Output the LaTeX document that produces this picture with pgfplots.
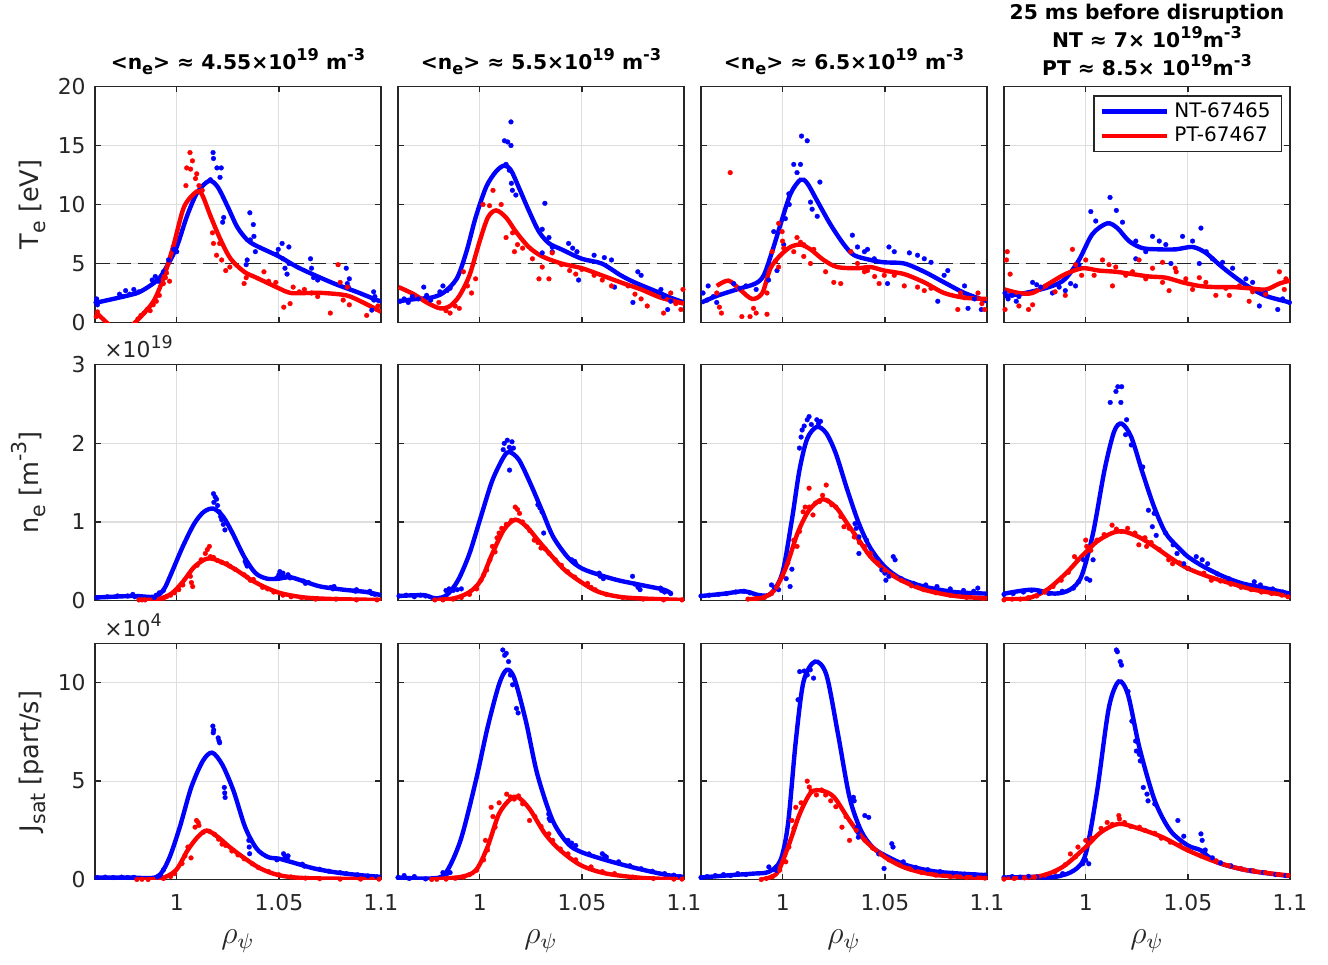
\documentclass[border=0pt]{standalone}
\usepackage{pgfplots}
\pgfplotsset{compat=1.18}
\usepackage{graphicx}
\usepackage{fontspec}
\setmainfont{DejaVu Sans}
\definecolor{gridc}{RGB}{222,222,222}
\definecolor{axc}{RGB}{38,38,38}
\newcommand\ticksize{\fontsize{8.2}{9.8}\selectfont}
\newcommand\labsize{\fontsize{9.6}{11}\selectfont}
\newcommand\titsize{\fontsize{7.6}{9}\selectfont\bfseries}
\newcommand\legsize{\fontsize{7.5}{9}\selectfont}
\newcommand\subx[1]{\raisebox{-0.5ex}{\scalebox{0.8}{#1}}}
\newcommand\supx[1]{\raisebox{0.8ex}{\scalebox{0.8}{#1}}}
\pgfplotsset{
  panel/.style={scale only axis, width=107.25pt, height=88.5pt, anchor=south west,
    xmin=0.96, xmax=1.1, xtick={1,1.05,1.1}, xticklabels={}, yticklabels={},
    grid=major, grid style={gridc, line width=0.45pt},
    axis line style={axc, line width=0.5pt}, tick style={axc, line width=0.5pt},
    tick align=inside, major tick length=2.2pt, tick pos=both,
    ticklabel style={font=\ticksize, text=axc},
    xticklabel style={yshift=-2pt},
    ylabel style={font=\labsize, text=axc, at={(axis description cs:-0.199,0.5)}, anchor=base},
    xlabel style={font=\fontsize{11.5}{12}\selectfont, text=axc, at={(axis description cs:0.5,-0.272)}, anchor=base},
    clip=true},
  te/.style={ymin=0, ymax=20, ytick={0,5,10,15,20}},
  ne/.style={ymin=0, ymax=3, ytick={0,1,2,3}},
  js/.style={ymin=0, ymax=12, ytick={0,5,10}},
  fitb/.style={blue, line width=1.65pt, smooth, mark=none},
  fitr/.style={red, line width=1.65pt, smooth, mark=none},
  dotb/.style={blue, only marks, mark=*, mark size=0.9pt, mark options={line width=0.1pt}, forget plot},
  dotr/.style={red, only marks, mark=*, mark size=0.9pt, mark options={line width=0.1pt}, forget plot},
  dash5/.style={black!85, dash pattern=on 5.5pt off 2.6pt, line width=0.5pt, forget plot},
  bottomrow/.style={xticklabels={1,1.05,1.1}, xlabel={$\rho_{\psi}$}},
}
\begin{document}
\begin{tikzpicture}
\useasboundingbox (0,0) rectangle (498pt,-361.875pt);
% ================= ROW 1 : Te =================
\begin{axis}[panel, te, name=a11, at={(35.625pt,-120.94pt)}, yticklabels={0,5,10,15,20}, ylabel={T\subx{e} [eV]}]
\addplot[dash5] coordinates {(0.96,5) (1.1,5)};
\addplot[dotb] coordinates {(0.9605,1.7)(0.9608,2.0)(0.9612,1.5)(0.972,2.4)(0.9735,2.2)(0.975,2.7)(0.977,2.4)(0.979,2.8)(0.980,2.5)(0.9815,2.6)(0.988,3.6)(0.9895,3.9)(0.991,3.5)(0.9935,4.3)(0.996,5.3)(0.9985,6.2)(1.0,6.0)(1.0165,12.1)(1.0178,14.4)(1.018,13.9)(1.0197,13.1)(1.0218,13.1)(1.0212,12.3)(1.023,8.9)(1.0225,8.5)(1.0358,9.3)(1.036,7.0)(1.0375,8.3)(1.0378,7.3)(1.0385,6.0)(1.0345,5.3)(1.034,4.9)(1.049,5.8)(1.0497,6.2)(1.0516,6.7)(1.0549,6.4)(1.052,5.4)(1.053,4.6)(1.054,4.1)(1.055,5.0)(1.0655,5.4)(1.066,4.6)(1.067,3.8)(1.069,3.6)(1.083,4.6)(1.0835,3.3)(1.084,3.0)(1.0845,3.7)(1.0964,2.6)(1.0965,1.9)(1.0955,1.05)(1.097,2.2)};
\addplot[fitb] coordinates {(0.9603,1.67)(0.974,2.2)(0.982,2.6)(0.9906,3.6)(0.995,4.7)(1.0,6.4)(1.005,9.0)(1.010,11.0)(1.0158,12.0)(1.020,11.5)(1.025,9.8)(1.0296,8.1)(1.0345,7.0)(1.039,6.5)(1.05,5.6)(1.059,4.7)(1.069,3.9)(1.0785,3.2)(1.088,2.6)(1.098,1.9)(1.1,1.8)};
\addplot[dotr] coordinates {(0.9612,0.9)(0.9606,0.5)(0.981,0.3)(0.9825,0.6)(0.984,0.8)(0.9855,1.1)(0.987,1.0)(0.9885,1.5)(0.990,1.8)(0.9915,2.3)(0.9935,3.3)(0.9945,3.8)(0.995,4.2)(0.9965,3.5)(1.0065,14.4)(1.0077,13.7)(1.0049,13.1)(1.0068,13.0)(1.0098,12.6)(1.0092,12.2)(1.0045,11.6)(1.0109,11.6)(1.0125,11.2)(1.0175,7.6)(1.018,6.7)(1.0195,5.7)(1.021,6.7)(1.022,5.3)(1.024,4.4)(1.026,4.7)(1.033,3.3)(1.034,3.8)(1.0427,4.3)(1.045,3.5)(1.0485,3.4)(1.0524,1.3)(1.0555,1.6)(1.057,3.0)(1.060,2.6)(1.0625,2.8)(1.066,2.5)(1.069,2.2)(1.0752,0.8)(1.079,4.9)(1.080,3.4)(1.0815,1.9)(1.0835,3.0)(1.0845,1.5)(1.093,0.6)(1.098,1.1)(1.0985,1.4)};
\addplot[fitr] coordinates {(0.9603,0.9)(0.967,-0.2)(0.973,-0.9)(0.979,-0.1)(0.984,0.8)(0.989,1.9)(0.9938,3.9)(0.9987,6.7)(1.0036,9.8)(1.0098,11.1)(1.0125,10.8)(1.0166,9.0)(1.0215,7.0)(1.0264,5.4)(1.033,4.3)(1.039,3.8)(1.05,2.9)(1.0557,2.5)(1.064,2.5)(1.072,2.5)(1.083,2.3)(1.09,1.8)(1.098,1.1)(1.1,0.9)};
\end{axis}
\begin{axis}[panel, te, name=a12, at={(149.25pt,-120.94pt)}]
\addplot[dash5] coordinates {(0.96,5) (1.1,5)};
\addplot[dotb] coordinates {(0.961,1.8)(0.963,2.0)(0.965,1.7)(0.967,2.2)(0.970,2.0)(0.9726,3.0)(0.974,2.3)(0.976,1.9)(0.9805,2.6)(0.982,3.1)(0.984,2.7)(0.9855,2.9)(1.0121,15.4)(1.0137,15.3)(1.0153,15.0)(1.0153,17.0)(1.0129,13.4)(1.0145,12.9)(1.0155,11.8)(1.016,11.2)(1.0177,10.8)(1.0319,10.1)(1.0306,7.9)(1.0339,7.2)(1.0355,6.4)(1.0306,5.9)(1.0355,6.0)(1.0435,6.7)(1.0455,6.3)(1.0476,6.0)(1.0484,3.6)(1.056,5.7)(1.061,5.5)(1.0645,5.3)(1.066,3.0)(1.075,1.7)(1.0774,4.3)(1.079,4.0)(1.0887,2.8)(1.090,2.2)(1.092,1.1)(1.0935,1.8)};
\addplot[fitb] coordinates {(0.9603,1.8)(0.969,2.0)(0.976,2.1)(0.982,2.5)(0.9887,3.7)(0.9935,6.0)(0.998,8.9)(1.0032,11.5)(1.008,12.8)(1.012,13.3)(1.0153,12.9)(1.019,11.5)(1.024,9.5)(1.029,7.7)(1.034,6.7)(1.040,6.2)(1.05,5.4)(1.0597,5.0)(1.069,4.0)(1.0758,3.4)(1.0855,2.7)(1.0935,2.1)(1.1,1.7)};
\addplot[dotr] coordinates {(0.980,1.7)(0.9835,1.0)(0.9855,0.8)(0.988,1.4)(0.990,1.2)(0.992,4.3)(0.994,3.1)(0.996,2.5)(0.998,3.7)(1.0016,10.0)(1.0048,9.9)(1.0065,11.2)(1.0105,10.0)(1.0129,7.2)(1.0161,7.6)(1.0185,6.6)(1.017,6.0)(1.0210,6.3)(1.0258,5.4)(1.029,3.7)(1.0306,4.7)(1.0339,3.7)(1.0355,5.9)(1.040,4.9)(1.044,4.4)(1.047,4.1)(1.050,4.5)(1.056,4.0)(1.060,3.6)(1.0645,3.1)(1.0726,3.1)(1.076,2.4)(1.079,2.0)(1.082,1.4)(1.090,0.8)(1.0935,2.5)(1.096,1.6)(1.0985,1.1)(1.0995,2.8)};
\addplot[fitr] coordinates {(0.9603,3.0)(0.9677,2.4)(0.974,1.7)(0.9806,1.2)(0.9855,1.4)(0.990,2.25)(0.995,4.0)(1.0,6.9)(1.004,8.9)(1.008,9.5)(1.0129,8.9)(1.0177,7.7)(1.024,6.4)(1.0306,5.6)(1.040,5.0)(1.05,4.6)(1.0597,4.0)(1.069,3.4)(1.079,2.8)(1.0887,2.1)(1.1,1.6)};
\end{axis}
\begin{axis}[panel, te, name=a13, at={(262.875pt,-120.94pt)}]
\addplot[dash5] coordinates {(0.96,5) (1.1,5)};
\addplot[dotb] coordinates {(0.961,2.5)(0.963,1.9)(0.9635,3.1)(0.966,2.2)(0.9677,1.7)(0.976,3.3)(0.979,2.9)(0.982,3.1)(0.987,2.8)(0.9931,3.6)(0.9972,4.4)(0.9956,7.7)(1.0005,6.6)(1.0013,8.8)(1.003,10.9)(1.0032,10.0)(1.0054,13.4)(1.007,12.7)(1.0092,15.8)(1.012,15.4)(1.0087,13.4)(1.0136,10.2)(1.0144,9.6)(1.0169,9.0)(1.0182,11.9)(1.0341,7.4)(1.0366,6.4)(1.0415,6.2)(1.0333,6.0)(1.040,6.0)(1.0448,5.4)(1.052,6.4)(1.0546,6.0)(1.0513,3.3)(1.062,5.9)(1.066,5.7)(1.0693,5.4)(1.0759,1.8)(1.0726,5.1)(1.079,4.0)(1.0808,4.4)(1.089,3.1)(1.0907,1.2)(1.0939,2.0)(1.0972,1.1)};
\addplot[fitb] coordinates {(0.9603,1.7)(0.9677,2.25)(0.9775,2.8)(0.9866,3.3)(0.9907,4.0)(0.9948,6.0)(0.9989,8.3)(1.0038,10.9)(1.0087,12.1)(1.012,11.8)(1.0169,10.3)(1.0234,8.3)(1.030,6.6)(1.035,5.7)(1.043,5.3)(1.0497,5.1)(1.0595,5.0)(1.0693,4.3)(1.079,3.4)(1.089,2.5)(1.1,1.8)};
\addplot[dotr] coordinates {(0.9743,12.7)(0.9677,2.5)(0.969,1.3)(0.970,0.8)(0.980,0.5)(0.984,0.5)(0.9857,1.2)(0.987,0.8)(0.9923,0.7)(0.9923,2.5)(0.9948,6.0)(0.9965,5.2)(0.998,4.7)(0.998,8.4)(0.9997,7.7)(0.9999,6.9)(1.0005,6.3)(1.007,7.2)(1.0087,6.8)(1.0103,6.6)(1.0054,6.0)(1.0103,5.6)(1.0136,5.0)(1.0152,6.2)(1.021,4.3)(1.025,3.4)(1.0284,3.3)(1.0333,6.0)(1.0366,5.0)(1.040,4.3)(1.0415,4.4)(1.045,3.9)(1.0472,3.3)(1.0497,4.0)(1.0546,4.0)(1.0595,3.1)(1.066,3.0)(1.0693,2.7)(1.0726,2.9)(1.0857,1.1)(1.087,2.5)(1.089,2.1)(1.0956,2.5)(1.0975,1.6)(1.0989,1.1)};
\addplot[fitr] coordinates {(0.9677,3.1)(0.9734,3.55)(0.979,2.8)(0.985,2.0)(0.990,2.5)(0.994,4.6)(0.9989,5.7)(1.0038,6.4)(1.0087,6.6)(1.0136,6.2)(1.020,5.3)(1.0267,4.7)(1.0366,4.6)(1.043,4.7)(1.0497,4.4)(1.0595,4.1)(1.0693,3.4)(1.079,2.5)(1.089,2.1)(1.1,2.0)};
\end{axis}
\begin{axis}[panel, te, name=a14, at={(376.5pt,-120.94pt)},
  legend style={at={(0.972,0.962)}, anchor=north east, draw=axc, line width=0.5pt, font=\legsize, inner xsep=2pt, inner ysep=0.3pt, row sep=-2pt, cells={anchor=west}, fill=white},
  legend image code/.code={\draw[#1] (0pt,0pt) -- (24.5pt,0pt);}]
\addplot[dash5] coordinates {(0.96,5) (1.1,5)};
\addplot[dotb] coordinates {(0.9605,2.5)(0.962,2.0)(0.964,2.3)(0.966,1.8)(0.9673,2.2)(0.974,3.4)(0.976,3.2)(0.978,3.0)(0.9837,2.5)(0.987,3.0)(0.990,2.7)(0.9926,3.3)(0.995,3.1)(0.9967,4.9)(1.0025,9.4)(1.0049,8.6)(1.0119,10.6)(1.015,9.5)(1.018,8.5)(1.0245,6.9)(1.0294,6.0)(1.0327,7.3)(1.036,6.9)(1.0392,6.6)(1.0245,5.4)(1.0417,5.0)(1.0474,7.3)(1.0523,6.9)(1.0564,8.0)(1.0556,5.0)(1.059,6.0)(1.062,5.4)(1.067,5.1)(1.0719,4.6)(1.0784,3.7)(1.0817,3.4)(1.085,1.4)(1.088,2.5)(1.094,1.1)(1.0964,2.0)(1.0997,1.7)};
\addplot[fitb] coordinates {(0.9603,2.25)(0.9673,2.4)(0.9755,2.7)(0.9837,3.1)(0.990,3.7)(0.9967,5.3)(1.0033,7.5)(1.0105,8.4)(1.0155,8.0)(1.0212,6.9)(1.0278,6.3)(1.036,6.2)(1.0441,6.2)(1.0523,6.4)(1.0588,5.9)(1.0654,4.9)(1.0719,4.0)(1.080,3.0)(1.0882,2.25)(1.1,1.7)};
\addlegendentry{NT-67465}
\addplot[dotr] coordinates {(0.9605,1.1)(0.9616,6.0)(0.9612,5.3)(0.963,4.1)(0.9673,1.4)(0.972,1.1)(0.974,1.5)(0.9804,3.1)(0.985,2.6)(0.990,2.3)(0.9935,6.2)(0.995,4.9)(0.998,4.0)(1.0,5.3)(1.0041,4.0)(1.0082,5.3)(1.0114,4.9)(1.0131,3.1)(1.0147,4.7)(1.0196,4.0)(1.0229,4.3)(1.0261,5.3)(1.0294,3.7)(1.0327,4.6)(1.0376,3.4)(1.0376,5.1)(1.0408,2.7)(1.0438,4.6)(1.0443,4.3)(1.0490,3.7)(1.0523,2.8)(1.0556,3.8)(1.0588,3.4)(1.0637,2.3)(1.0686,2.9)(1.0703,2.3)(1.0752,3.1)(1.080,1.8)(1.0817,2.6)(1.088,2.4)(1.0948,4.3)(1.0972,2.8)(1.098,3.7)};
\addplot[fitr] coordinates {(0.9603,2.8)(0.9673,2.5)(0.9739,2.5)(0.982,3.3)(0.990,4.1)(0.9984,4.6)(1.0065,4.4)(1.0147,4.3)(1.0229,4.1)(1.031,3.9)(1.0392,3.8)(1.0474,3.4)(1.0556,3.1)(1.0637,3.0)(1.0719,3.0)(1.080,2.9)(1.0882,2.8)(1.0948,3.3)(1.1,3.55)};
\addlegendentry{PT-67467}
\end{axis}
% ================= ROW 2 : ne =================
\begin{axis}[panel, ne, name=a21, at={(35.625pt,-225.26pt)}, yticklabels={0,1,2,3}, ylabel={n\subx{e} [m\supx{-3}]}]
\addplot[dotb] coordinates {(0.961,0.04)(0.966,0.05)(0.971,0.06)(0.976,0.06)(0.9785,0.08)(0.9795,0.05)(0.989,0.04)(0.990,0.07)(0.9915,0.10)(0.9935,0.13)(1.018,1.36)(1.0188,1.32)(1.0195,1.29)(1.0182,1.25)(1.020,1.21)(1.0208,1.13)(1.0215,1.07)(1.022,1.03)(1.0228,0.97)(1.0236,0.90)(1.0335,0.50)(1.034,0.47)(1.0345,0.44)(1.049,0.29)(1.050,0.33)(1.0505,0.37)(1.0515,0.31)(1.052,0.35)(1.0535,0.30)(1.0545,0.33)(1.0555,0.29)(1.062,0.25)(1.063,0.22)(1.0645,0.23)(1.0755,0.17)(1.0765,0.15)(1.077,0.18)(1.0875,0.12)(1.088,0.14)(1.0945,0.12)(1.0955,0.09)(1.097,0.08)};
\addplot[fitb] coordinates {(0.9603,0.04)(0.9787,0.06)(0.989,0.05)(0.9936,0.14)(0.9974,0.35)(1.003,0.69)(1.0086,0.98)(1.0133,1.13)(1.018,1.17)(1.0227,1.07)(1.0273,0.86)(1.033,0.56)(1.0386,0.35)(1.0442,0.28)(1.05,0.28)(1.0554,0.30)(1.0629,0.24)(1.0704,0.18)(1.0816,0.14)(1.0929,0.11)(1.1,0.07)};
\addplot[dotr] coordinates {(0.9815,0.01)(0.983,0.01)(0.9845,0.01)(0.9935,0.03)(0.995,0.05)(0.997,0.07)(0.999,0.10)(1.001,0.14)(1.003,0.20)(1.0067,0.31)(1.0072,0.23)(1.0078,0.18)(1.010,0.45)(1.012,0.52)(1.014,0.60)(1.015,0.65)(1.016,0.69)(1.0165,0.56)(1.018,0.55)(1.020,0.51)(1.022,0.49)(1.0245,0.47)(1.026,0.44)(1.0285,0.40)(1.033,0.33)(1.0345,0.30)(1.036,0.26)(1.0375,0.27)(1.042,0.17)(1.0445,0.15)(1.0475,0.11)(1.052,0.07)(1.056,0.05)(1.061,0.04)(1.068,0.02)(1.078,0.02)(1.088,0.01)(1.098,0.01)};
\addplot[fitr] coordinates {(0.9815,0.01)(0.9908,0.02)(0.9974,0.09)(1.003,0.24)(1.0086,0.43)(1.0142,0.53)(1.018,0.53)(1.0236,0.47)(1.0292,0.39)(1.0367,0.26)(1.0442,0.16)(1.0517,0.09)(1.0629,0.04)(1.0779,0.02)(1.1,0.01)};
\end{axis}
\begin{axis}[panel, ne, name=a22, at={(149.25pt,-225.26pt)}]
\addplot[dotb] coordinates {(0.9605,0.06)(0.964,0.07)(0.968,0.05)(0.971,0.07)(0.9735,0.06)(0.978,0.03)(0.9835,0.13)(0.985,0.15)(0.987,0.13)(0.989,0.14)(0.991,0.15)(1.0115,1.92)(1.012,2.0)(1.0135,2.04)(1.0145,1.95)(1.015,1.90)(1.0158,2.02)(1.0165,1.94)(1.0146,1.66)(1.0285,1.22)(1.0295,1.18)(1.0305,1.13)(1.0313,0.86)(1.045,0.52)(1.0465,0.50)(1.047,0.47)(1.0585,0.35)(1.059,0.31)(1.0605,0.28)(1.0748,0.31)(1.076,0.21)(1.0775,0.17)(1.0785,0.14)(1.0885,0.16)(1.089,0.13)(1.0905,0.11)(1.0935,0.09)};
\addplot[fitb] coordinates {(0.9603,0.06)(0.9726,0.07)(0.9782,0.03)(0.9838,0.07)(0.9894,0.26)(0.995,0.60)(1.0006,1.07)(1.0062,1.53)(1.0118,1.83)(1.0146,1.89)(1.0192,1.79)(1.0248,1.49)(1.0304,1.15)(1.036,0.81)(1.0435,0.54)(1.05,0.41)(1.0584,0.33)(1.0677,0.26)(1.0789,0.20)(1.0901,0.14)(1.0938,0.09)};
\addplot[dotr] coordinates {(0.978,0.01)(0.982,0.01)(0.987,0.02)(0.991,0.04)(0.995,0.08)(0.9985,0.15)(1.0006,0.26)(1.002,0.33)(1.0034,0.39)(1.005,0.52)(1.0062,0.69)(1.0075,0.62)(1.0085,0.80)(1.0095,0.86)(1.0108,0.92)(1.013,0.97)(1.0155,1.02)(1.0174,1.19)(1.0185,1.16)(1.0195,1.11)(1.021,1.00)(1.023,0.94)(1.0245,0.89)(1.0267,0.77)(1.0285,0.74)(1.030,0.67)(1.032,0.66)(1.034,0.60)(1.037,0.52)(1.040,0.45)(1.043,0.37)(1.0465,0.30)(1.0528,0.22)(1.0545,0.17)(1.0565,0.14)(1.062,0.08)(1.070,0.04)(1.080,0.02)(1.09,0.01)(1.099,0.01)};
\addplot[fitr] coordinates {(0.9782,0.01)(0.9875,0.03)(0.995,0.11)(1.0006,0.26)(1.0062,0.60)(1.0118,0.90)(1.0174,1.03)(1.023,0.94)(1.0285,0.77)(1.0341,0.60)(1.0416,0.39)(1.05,0.23)(1.0584,0.11)(1.0715,0.04)(1.1,0.01)};
\end{axis}
\begin{axis}[panel, ne, name=a23, at={(262.875pt,-225.26pt)}]
\addplot[dotb] coordinates {(0.960,0.06)(0.964,0.07)(0.9685,0.08)(0.9725,0.09)(0.977,0.11)(0.981,0.12)(0.984,0.10)(0.9945,0.20)(0.996,0.17)(0.998,0.14)(1.0017,0.28)(1.0036,0.18)(1.0045,0.40)(1.0082,1.94)(1.009,2.08)(1.0095,2.17)(1.0105,2.22)(1.012,2.30)(1.0129,2.34)(1.014,2.24)(1.0167,2.30)(1.0175,2.25)(1.0185,2.28)(1.0354,0.98)(1.036,0.92)(1.0373,0.81)(1.0373,0.60)(1.041,0.77)(1.0485,0.39)(1.050,0.35)(1.052,0.31)(1.0541,0.56)(1.055,0.52)(1.0505,0.26)(1.058,0.28)(1.064,0.22)(1.070,0.20)(1.0755,0.18)(1.082,0.15)(1.0885,0.13)(1.0935,0.12)(1.0955,0.16)};
\addplot[fitb] coordinates {(0.9603,0.06)(0.9717,0.09)(0.9811,0.12)(0.9886,0.07)(0.9942,0.09)(0.9998,0.35)(1.0045,1.03)(1.0082,1.66)(1.012,2.06)(1.0167,2.21)(1.0213,2.13)(1.026,1.87)(1.0316,1.41)(1.0373,0.98)(1.0429,0.67)(1.05,0.43)(1.0579,0.28)(1.0691,0.18)(1.0841,0.11)(1.1,0.09)};
\addplot[dotr] coordinates {(0.983,0.02)(0.987,0.03)(0.991,0.04)(0.9945,0.09)(0.997,0.17)(1.000,0.31)(1.0025,0.48)(1.0054,0.77)(1.007,0.69)(1.0082,0.88)(1.010,1.13)(1.011,1.19)(1.0129,1.43)(1.013,1.19)(1.0148,1.09)(1.016,1.24)(1.018,1.26)(1.0195,1.34)(1.0213,1.47)(1.022,1.27)(1.024,1.22)(1.026,1.19)(1.0285,1.07)(1.030,0.94)(1.0325,0.92)(1.035,0.81)(1.0375,0.74)(1.040,0.69)(1.043,0.60)(1.0465,0.48)(1.050,0.39)(1.054,0.32)(1.058,0.26)(1.063,0.19)(1.069,0.14)(1.075,0.10)(1.082,0.07)(1.090,0.04)(1.098,0.03)};
\addplot[fitr] coordinates {(0.983,0.02)(0.9904,0.04)(0.9961,0.14)(1.0017,0.43)(1.0073,0.86)(1.0129,1.15)(1.0195,1.29)(1.026,1.19)(1.0316,0.98)(1.0373,0.77)(1.0429,0.56)(1.05,0.39)(1.0579,0.26)(1.0691,0.14)(1.0841,0.06)(1.1,0.03)};
\end{axis}
\begin{axis}[panel, ne, name=a24, at={(376.5pt,-225.26pt)}]
\addplot[dotb] coordinates {(0.960,0.08)(0.9645,0.09)(0.9695,0.11)(0.9735,0.13)(0.9775,0.11)(0.982,0.09)(0.9885,0.12)(0.994,0.16)(0.9965,0.24)(0.9989,0.52)(1.0005,0.28)(1.002,0.26)(1.0036,0.52)(1.012,2.52)(1.0148,2.66)(1.0157,2.72)(1.0176,2.72)(1.0172,2.52)(1.020,2.30)(1.0195,2.11)(1.0223,1.98)(1.0279,1.70)(1.0307,1.15)(1.0335,1.11)(1.0326,0.94)(1.0345,0.83)(1.0391,0.86)(1.0428,0.71)(1.0447,0.60)(1.048,0.47)(1.0502,0.41)(1.0541,0.56)(1.057,0.52)(1.0597,0.47)(1.0645,0.34)(1.070,0.28)(1.0825,0.24)(1.0855,0.20)(1.0915,0.15)(1.0965,0.11)(1.099,0.08)};
\addplot[fitb] coordinates {(0.9603,0.09)(0.9736,0.14)(0.9848,0.09)(0.9923,0.14)(0.9979,0.31)(1.0036,0.86)(1.0092,1.66)(1.0139,2.15)(1.0176,2.25)(1.0223,2.08)(1.0279,1.62)(1.0335,1.19)(1.0391,0.86)(1.0448,0.69)(1.05,0.56)(1.0579,0.43)(1.0672,0.31)(1.0766,0.22)(1.0878,0.16)(1.1,0.09)};
\addplot[dotr] coordinates {(0.960,0.01)(0.964,0.02)(0.968,0.02)(0.972,0.04)(0.976,0.06)(0.980,0.11)(0.984,0.18)(0.988,0.26)(0.9915,0.36)(0.9945,0.56)(0.996,0.52)(1.0,0.77)(1.0005,0.69)(1.0025,0.64)(1.0055,0.77)(1.009,0.84)(1.0129,0.96)(1.015,0.91)(1.0175,0.88)(1.0205,0.92)(1.0241,0.86)(1.026,0.71)(1.0298,0.69)(1.029,0.80)(1.032,0.74)(1.036,0.65)(1.0406,0.52)(1.0425,0.47)(1.046,0.48)(1.050,0.41)(1.0578,0.35)(1.0615,0.26)(1.066,0.25)(1.071,0.21)(1.076,0.17)(1.081,0.14)(1.086,0.11)(1.091,0.09)(1.096,0.07)(1.099,0.05)};
\addplot[fitr] coordinates {(0.9603,0.02)(0.9717,0.03)(0.9811,0.14)(0.9904,0.35)(0.9979,0.56)(1.0054,0.75)(1.0129,0.86)(1.0185,0.88)(1.026,0.81)(1.0335,0.69)(1.0429,0.52)(1.05,0.41)(1.0597,0.31)(1.071,0.22)(1.0822,0.14)(1.1,0.06)};
\end{axis}
% ================= ROW 3 : Jsat =================
\begin{axis}[panel, js, bottomrow, name=a31, at={(35.625pt,-329.81pt)}, yticklabels={0,5,10}, ylabel={J\subx{sat} [part/s]}]
\addplot[dotb] coordinates {(0.961,0.10)(0.965,0.12)(0.969,0.10)(0.973,0.12)(0.976,0.10)(0.979,0.11)(0.9905,0.13)(0.992,0.2)(0.9935,0.5)(1.0177,7.80)(1.0179,7.46)(1.0181,7.6)(1.0203,7.20)(1.0207,7.05)(1.021,6.95)(1.0233,4.68)(1.0235,4.4)(1.0237,4.17)(1.0353,1.99)(1.0355,1.65)(1.0357,1.31)(1.049,1.0)(1.0523,1.31)(1.053,1.2)(1.054,1.06)(1.0545,1.2)(1.0615,0.78)(1.0625,0.68)(1.07,0.52)(1.0745,0.42)(1.08,0.35)(1.083,0.30)(1.0885,0.24)(1.0935,0.18)(1.098,0.13)};
\addplot[fitb] coordinates {(0.9603,0.1)(0.9771,0.1)(0.9902,0.13)(0.9959,0.98)(1.0015,2.66)(1.0071,4.68)(1.0128,6.03)(1.0173,6.45)(1.0222,5.86)(1.0278,4.51)(1.0335,2.66)(1.0391,1.57)(1.0447,1.14)(1.05,1.06)(1.056,0.89)(1.0673,0.56)(1.0786,0.35)(1.0898,0.22)(1.1,0.13)};
\addplot[dotr] coordinates {(0.9805,0.0)(0.983,0.01)(0.986,0.0)(0.9935,0.05)(0.997,0.15)(0.999,0.3)(1.0026,0.81)(1.004,1.2)(1.0055,1.65)(1.007,1.1)(1.009,2.66)(1.0097,3.0)(1.0105,2.9)(1.0109,2.75)(1.013,2.4)(1.016,2.45)(1.0185,2.3)(1.0205,2.05)(1.0222,1.80)(1.024,1.73)(1.027,1.45)(1.03,1.25)(1.033,1.05)(1.037,0.8)(1.04,0.6)(1.045,0.4)(1.05,0.24)(1.056,0.13)(1.063,0.07)(1.07,0.04)(1.08,0.02)(1.09,0.02)(1.099,0.02)};
\addplot[fitr] coordinates {(0.9808,0.0)(0.9921,0.05)(0.9996,0.47)(1.0053,1.48)(1.0102,2.15)(1.0147,2.49)(1.0203,2.15)(1.0259,1.65)(1.0335,1.06)(1.041,0.56)(1.05,0.22)(1.0635,0.07)(1.1,0.02)};
\end{axis}
\begin{axis}[panel, js, bottomrow, name=a32, at={(149.25pt,-329.81pt)}]
\addplot[dotb] coordinates {(0.960,0.1)(0.963,0.2)(0.9655,0.05)(0.968,0.15)(0.9735,0.03)(0.982,0.35)(0.984,0.3)(0.9855,0.35)(1.0113,11.67)(1.0122,11.4)(1.013,11.5)(1.0141,11.08)(1.015,10.4)(1.0161,9.9)(1.018,8.70)(1.0188,8.47)(1.0338,3.33)(1.034,3.1)(1.0345,3.0)(1.0432,1.99)(1.045,1.85)(1.047,1.73)(1.0535,1.3)(1.06,1.31)(1.0612,1.2)(1.062,1.14)(1.068,0.9)(1.0735,0.7)(1.079,0.55)(1.0845,0.42)(1.0905,0.3)(1.095,0.22)(1.098,0.15)};
\addplot[fitb] coordinates {(0.9598,0.1)(0.9756,0.05)(0.9831,0.3)(0.9906,1.99)(0.9981,5.02)(1.0038,7.71)(1.0094,9.9)(1.0132,10.66)(1.0169,10.24)(1.0226,8.05)(1.0282,5.35)(1.0357,3.0)(1.0432,1.82)(1.0496,1.4)(1.062,0.98)(1.0771,0.56)(1.0921,0.22)(1.0996,0.13)};
\addplot[dotr] coordinates {(0.9765,0.0)(0.979,0.01)(0.9835,0.02)(0.988,0.06)(0.992,0.12)(0.995,0.25)(0.9985,0.47)(1.0019,1.0)(1.0028,1.99)(1.0038,1.5)(1.0056,3.67)(1.0065,3.2)(1.0075,2.66)(1.0095,3.9)(1.0132,4.34)(1.015,4.2)(1.0169,4.09)(1.019,4.25)(1.021,3.85)(1.0244,3.0)(1.027,3.2)(1.03,2.7)(1.0338,2.32)(1.0357,1.99)(1.0395,1.55)(1.0432,1.3)(1.047,1.0)(1.0545,0.64)(1.06,0.4)(1.066,0.3)(1.075,0.12)(1.085,0.05)(1.095,0.02)(1.099,0.02)};
\addplot[fitr] coordinates {(0.9756,0.0)(0.9906,0.13)(0.9981,0.47)(1.0038,1.65)(1.0094,3.33)(1.015,4.09)(1.0188,4.18)(1.0244,3.59)(1.032,2.32)(1.0395,1.48)(1.0496,0.72)(1.062,0.3)(1.0808,0.07)(1.1,0.02)};
\end{axis}
\begin{axis}[panel, js, bottomrow, name=a33, at={(262.875pt,-329.81pt)}]
\addplot[dotb] coordinates {(0.960,0.1)(0.963,0.15)(0.967,0.2)(0.971,0.25)(0.9745,0.2)(0.978,0.3)(0.982,0.25)(0.9932,0.64)(0.9955,0.5)(0.997,0.47)(1.0075,9.14)(1.0083,10.57)(1.0105,10.6)(1.012,10.4)(1.0135,10.66)(1.0151,10.24)(1.0346,4.18)(1.035,4.0)(1.0365,2.66)(1.0368,2.4)(1.037,2.15)(1.0402,3.25)(1.0421,3.16)(1.047,1.3)(1.0496,0.56)(1.0534,1.82)(1.054,1.65)(1.059,0.9)(1.065,0.62)(1.071,0.5)(1.077,0.4)(1.083,0.32)(1.089,0.27)(1.094,0.25)(1.099,0.22)};
\addplot[fitb] coordinates {(0.9598,0.1)(0.9744,0.22)(0.9857,0.3)(0.9932,0.39)(0.9989,0.98)(1.0026,2.83)(1.0064,7.04)(1.0102,10.07)(1.0158,11.08)(1.0214,10.4)(1.0271,7.37)(1.0327,4.18)(1.0383,2.49)(1.0439,1.65)(1.05,1.23)(1.0609,0.72)(1.0759,0.39)(1.1,0.22)};
\addplot[dotr] coordinates {(0.9895,0.0)(0.992,0.05)(0.995,0.15)(0.9985,0.47)(1.0015,0.9)(1.003,1.65)(1.0045,3.0)(1.0055,2.6)(1.0064,3.67)(1.009,3.9)(1.012,5.0)(1.013,4.7)(1.0139,4.5)(1.0165,4.3)(1.019,4.55)(1.021,4.3)(1.0235,4.0)(1.026,3.7)(1.029,2.66)(1.031,3.2)(1.0327,1.99)(1.036,2.5)(1.0402,2.0)(1.044,1.6)(1.048,1.3)(1.052,1.0)(1.057,0.75)(1.062,0.55)(1.068,0.35)(1.075,0.22)(1.082,0.15)(1.09,0.1)(1.099,0.07)};
\addplot[fitr] coordinates {(0.9895,0.0)(0.997,0.3)(1.0026,1.65)(1.0083,3.33)(1.0139,4.43)(1.0195,4.51)(1.0252,4.18)(1.0327,3.0)(1.0402,1.99)(1.05,1.14)(1.0609,0.56)(1.0759,0.22)(1.1,0.07)};
\end{axis}
\begin{axis}[panel, js, bottomrow, name=a34, at={(376.5pt,-329.81pt)}]
\addplot[dotb] coordinates {(0.960,0.1)(0.964,0.15)(0.968,0.12)(0.972,0.16)(0.976,0.13)(0.980,0.1)(0.985,0.15)(0.9887,0.3)(0.9985,0.8)(1.0,0.98)(1.0015,0.8)(1.015,11.67)(1.0155,11.58)(1.0169,11.08)(1.0175,10.9)(1.0207,9.56)(1.0226,8.05)(1.0244,7.04)(1.0248,6.53)(1.0263,6.36)(1.0267,6.03)(1.0282,4.68)(1.03,4.34)(1.0305,4.0)(1.0338,3.84)(1.0451,3.0)(1.048,2.2)(1.0564,2.32)(1.057,1.99)(1.0585,1.5)(1.062,1.1)(1.066,0.85)(1.071,0.7)(1.076,0.55)(1.081,0.45)(1.087,0.35)(1.093,0.25)(1.098,0.2)};
\addplot[fitb] coordinates {(0.9598,0.1)(0.9737,0.13)(0.985,0.13)(0.9944,0.47)(1.0,1.31)(1.0056,4.51)(1.0113,8.72)(1.0162,10.07)(1.0207,9.39)(1.0263,6.7)(1.0338,4.01)(1.0414,2.49)(1.05,1.73)(1.0564,1.48)(1.0639,0.89)(1.0789,0.47)(1.1,0.17)};
\addplot[dotr] coordinates {(0.960,0.02)(0.965,0.05)(0.970,0.08)(0.975,0.12)(0.98,0.22)(0.985,0.4)(0.99,0.75)(0.9925,1.3)(0.995,1.15)(0.9962,1.65)(1.0,1.99)(1.003,2.1)(1.0075,2.6)(1.0105,2.9)(1.013,2.8)(1.0162,3.25)(1.0165,3.08)(1.019,2.9)(1.022,2.7)(1.0263,2.66)(1.029,2.5)(1.0338,2.35)(1.037,2.1)(1.0414,1.9)(1.046,1.75)(1.05,1.5)(1.0564,1.2)(1.0639,0.95)(1.07,0.7)(1.076,0.55)(1.082,0.45)(1.088,0.35)(1.094,0.25)(1.099,0.2)};
\addplot[fitr] coordinates {(0.9598,0.03)(0.9774,0.17)(0.9887,0.64)(1.0,1.65)(1.0075,2.41)(1.0162,2.83)(1.0263,2.58)(1.0376,2.15)(1.05,1.48)(1.0639,0.89)(1.0789,0.47)(1.1,0.2)};
\end{axis}
% ================= annotations =================
\node[anchor=base west, font=\ticksize, text=axc, yshift=2.6pt] at (a21.north west) {×10\supx{19}};
\node[anchor=base west, font=\ticksize, text=axc, yshift=2.6pt] at (a31.north west) {×10\supx{4}};
\node[anchor=base, font=\titsize, yshift=6.4pt] at (a11.north) {<n\subx{e}> ≈ 4.55×10\supx{19} m\supx{-3}};
\node[anchor=base, font=\titsize, yshift=6.4pt] at (a12.north) {<n\subx{e}> ≈ 5.5×10\supx{19} m\supx{-3}};
\node[anchor=base, font=\titsize, yshift=6.4pt] at (a13.north) {<n\subx{e}> ≈ 6.5×10\supx{19} m\supx{-3}};
\node[anchor=base, font=\titsize, yshift=25.1pt] at (a14.north) {25 ms before disruption};
\node[anchor=base, font=\titsize, yshift=14.6pt] at (a14.north) {NT ≈ 7× 10\supx{19}m\supx{-3}};
\node[anchor=base, font=\titsize, yshift=4.1pt] at (a14.north) {PT ≈ 8.5× 10\supx{19}m\supx{-3}};
\end{tikzpicture}
\end{document}
